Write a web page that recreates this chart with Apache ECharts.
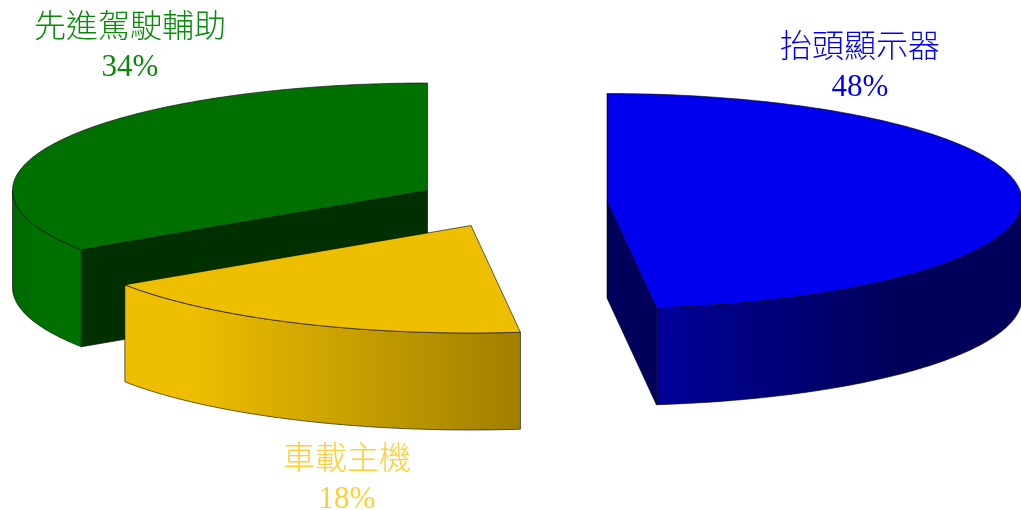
<!DOCTYPE html>
<html>
<head>
<meta charset="utf-8">
<style>html,body{margin:0;padding:0;background:#fff}#c{width:1021px;height:510px}</style>
<script src="https://cdn.jsdelivr.net/npm/echarts@6/dist/echarts.min.js"></script>
</head>
<body>
<div id="c"></div>
<script>
// Data (slice sweeps; labels show them rounded)
const categories = ['抬頭顯示器', '車載主機', '先進駕駛輔助'];
const shares = [48.1, 17.6, 34.3];

// Layout and styling (one entry per slice)
const centers = [[607, 201], [471, 225.5], [427.5, 190.5]];
const labelAnchors = [[860, 45], [347, 457], [130, 25]];
const topColors = ['#0000EE', '#EEBE00', '#007000'];
const wallColors = ['#00005A', '#7A6000', '#003000'];
const labelColors = ['#0000EE', '#FFCF33', '#0A8A0A'];
const sideStops = [
  [[656, '#000099'], [900, '#00005A']],
  [[190, '#EEBE00'], [521, '#A07F00']],
  [[12, '#006600'], [35, '#007000']]
];
const layerOrder = [2, 5, 1];
const radiusX = 415;
const radiusY = 107.5;
const depth = 97;

const total = shares.reduce((a, b) => a + b, 0);
const rad = d => d * Math.PI / 180;
const ell = (c, deg, dy) => [c[0] + radiusX * Math.sin(rad(deg)), c[1] - radiusY * Math.cos(rad(deg)) + (dy || 0)];
function arc(c, a, b, dy) {
  const pts = [];
  const step = a <= b ? 1 : -1;
  for (let d = a; step > 0 ? d < b : d > b; d += step) pts.push(ell(c, d, dy));
  pts.push(ell(c, b, dy));
  return pts;
}
function sideFill(i) {
  const s = sideStops[i];
  return new echarts.graphic.LinearGradient(s[0][0], 0, s[1][0], 0,
    [{ offset: 0, color: s[0][1] }, { offset: 1, color: s[1][1] }], true);
}
const edge = { stroke: 'rgba(0,0,0,0.75)', lineWidth: 0.8, lineJoin: 'round' };

function renderItem(params, api) {
  const i = params.dataIndex;
  let startShare = 0;
  for (let k = 0; k < i; k++) startShare += shares[k];
  const a0 = startShare / total * 360;
  const a1 = (startShare + api.value(0)) / total * 360;
  const c = centers[i];
  const bottom = [c[0], c[1] + depth];
  const z2 = layerOrder[i];
  const children = [];
  const wall = a => {
    const p = ell(c, a);
    children.push({
      type: 'polygon', z2,
      shape: { points: [c, p, [p[0], p[1] + depth], bottom] },
      style: Object.assign({ fill: wallColors[i] }, edge)
    });
  };
  if (Math.sin(rad(a1)) > 0.01) wall(a1);
  if (Math.sin(rad(a0)) < -0.01) wall(a0);
  const sa = Math.max(a0, 90), sb = Math.min(a1, 270);
  if (sb > sa) {
    children.push({
      type: 'polygon', z2,
      shape: { points: arc(c, sa, sb).concat(arc(c, sb, sa, depth)) },
      style: Object.assign({ fill: sideFill(i) }, edge)
    });
  }
  children.push({
    type: 'polygon', z2,
    shape: { points: [c].concat(arc(c, a0, a1)) },
    style: Object.assign({ fill: topColors[i] }, edge)
  });
  const la = labelAnchors[i];
  const font = { fill: labelColors[i], align: 'center', verticalAlign: 'middle' };
  children.push({
    type: 'text', z2: 10, x: la[0], y: la[1],
    style: Object.assign({ text: categories[i], fontSize: 32, fontFamily: '"Noto Sans CJK TC"', fontWeight: 300 }, font)
  });
  children.push({
    type: 'text', z2: 10, x: la[0], y: la[1] + 43,
    style: Object.assign({ text: Math.round(api.value(0)) + '%', fontSize: 31, fontFamily: '"Liberation Serif"' }, font)
  });
  return { type: 'group', children };
}

const chart = echarts.init(document.getElementById('c'), null, { renderer: 'canvas' });
chart.setOption({
  animation: false,
  backgroundColor: '#fff',
  series: [{
    type: 'custom',
    coordinateSystem: 'none',
    renderItem,
    data: shares.map((v, i) => ({ name: categories[i], value: [v] }))
  }]
});
</script>
</body>
</html>
